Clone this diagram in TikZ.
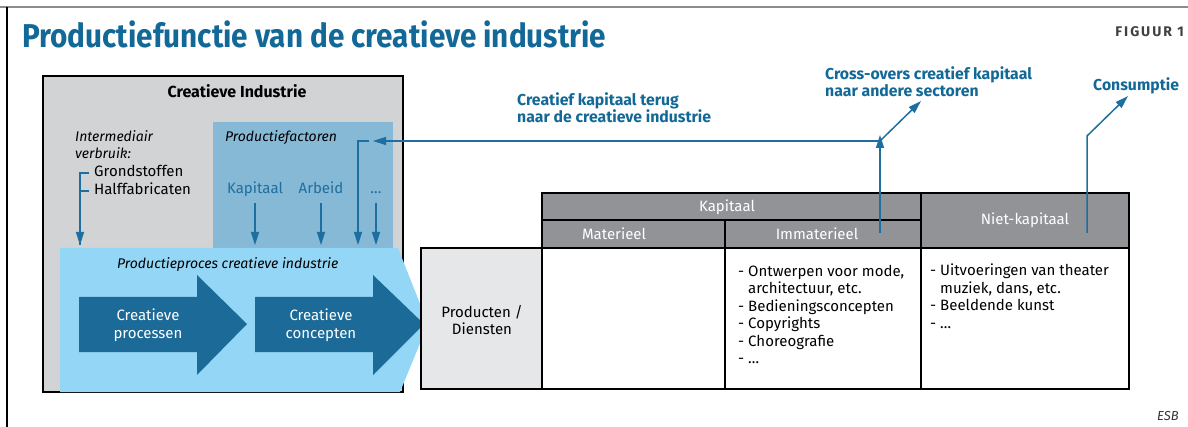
\documentclass[tikz,border=0pt]{standalone}
\usepackage{fontspec}
\setmainfont{Fira Sans}
\newfontfamily\condfont{Fira Sans}[FakeStretch=0.9]
\usetikzlibrary{arrows.meta}

\definecolor{esbblue}{RGB}{18,104,150}
\definecolor{arrowblue}{RGB}{30,110,160}
\definecolor{procblue}{RGB}{27,106,152}
\definecolor{lightblue}{RGB}{148,214,245}
\definecolor{factorblue}{RGB}{134,185,213}
\definecolor{boxgray}{RGB}{210,211,213}
\definecolor{headgray}{RGB}{146,147,151}
\definecolor{cellgray}{RGB}{230,231,232}
\definecolor{framegray}{RGB}{140,140,140}

\begin{document}
\begin{tikzpicture}[x=1pt,y=-1pt,
    txt/.style={font=\fontsize{15}{17.5}\selectfont, inner sep=0pt, align=left},
    ittxt/.style={txt, font=\itshape\fontsize{14}{17}\selectfont, anchor=base west},
    headtxt/.style={txt, text=white, anchor=center},
    bluebold/.style={font=\bfseries\fontsize{15.8}{17.8}\selectfont, text=esbblue, inner sep=0pt, anchor=base west, align=left},
    flow/.style={draw=arrowblue, line width=1.5, -{Triangle[length=13pt,width=8pt]}},
    plain/.style={draw=arrowblue, line width=1.5},
    grid/.style={draw=black, line width=1.1}]
    \useasboundingbox (0,0) rectangle (1188,427);

    % frame and title
    \draw[framegray, line width=2] (0,7) -- (1188,7);
    \draw[black, line width=1.3] (7,7) -- (7,427);
    \node[anchor=base west, inner sep=0pt, text=esbblue,
          font=\condfont\bfseries\fontsize{33}{36}\selectfont] (title) at (22,48)
          {Productiefunctie van de creatieve industrie};
    \node[anchor=base east, inner sep=0pt, text=black!75,
          font=\bfseries\fontsize{14}{14}\selectfont\addfontfeature{LetterSpace=14}] (figuur) at (1184,37) {FIGUUR 1};
    \node[anchor=base east, inner sep=0pt, font=\itshape\fontsize{13}{14}\selectfont,
          text=black!80] (esb) at (1179,420) {ESB};

    % creatieve industrie
    \draw[grid, fill=boxgray] (43,76) rectangle (403,392);
    \node[txt, font=\bfseries\fontsize{16}{17.5}\selectfont, anchor=base] (ci) at (237,98) {Creatieve Industrie};
    \fill[factorblue] (213,122) rectangle (393,250);

    \node[ittxt] (inter) at (75,159) {Intermediair\\verbruik:};
    \node[txt, anchor=base west] (grond) at (94,177) {Grondstoffen};
    \node[txt, anchor=base west] (half) at (94,195) {Halffabricaten};
    \node[ittxt] (pf) at (225,142) {Productiefactoren};
    \node[txt, text=arrowblue, anchor=base] (kap) at (255,194) {Kapitaal};
    \node[txt, text=arrowblue, anchor=base] (arb) at (321,194) {Arbeid};
    \node[txt, text=arrowblue, anchor=base] (etc) at (376,194) {\dots};

    \coordinate (br1) at (89,173);
    \coordinate (br2) at (89,191);
    \coordinate (brin) at (80,245);
    \draw[plain] (br1) -| (brin);
    \draw[plain] (br2) -- (br2 -| brin);
    \draw[flow] (br1 -| brin) -- (brin);

    \draw[flow] (255,203) -- (kap |- brin);
    \draw[flow] (321,203) -- (arb |- brin);
    \draw[flow] (376,203) -- (etc |- brin);

    % productieproces
    \fill[lightblue] (60,248) -- (398,248) -- (428,324) -- (400,392) -- (60,392) -- cycle;
    \node[ittxt] (pp) at (117,269) {Productieproces creatieve industrie};
    \fill[procblue] (79,297) -- (197,297) -- (197,275) -- (247,324) -- (197,375) -- (197,352) -- (79,352) -- cycle;
    \fill[procblue] (255,297) -- (373,297) -- (373,275) -- (424,324) -- (373,375) -- (373,352) -- (255,352) -- cycle;
    \node[txt, text=white, align=center] (cp) at (148,325) {Creatieve\\processen};
    \node[txt, text=white, align=center] (cc) at (321,325) {Creatieve\\concepten};

    % tabel
    \draw[grid, fill=headgray] (542,193) rectangle (1129,248);
    \draw[grid] (542,220) -- (921,220);
    \draw[grid] (725,220) -- (725,389);
    \draw[grid] (921,193) -- (921,389);
    \draw[grid, fill=cellgray] (421,248) rectangle (542,389);
    \draw[grid] (542,248) rectangle (1129,389);
    \node[headtxt] (kapitaal) at (727,207) {Kapitaal};
    \node[headtxt] (mat) at (614,234) {Materieel};
    \node[headtxt] (immat) at (817,234) {Immaterieel};
    \node[headtxt] (niet) at (1025,220) {Niet-kapitaal};
    \node[txt, align=center] (prod) at (482,320) {Producten /\\Diensten};
    \node[txt, anchor=base west] (immlist) at (738,363.5)
          {- Ontwerpen voor mode,\\\hphantom{- }architectuur, etc.\\- Bedieningsconcepten\\- Copyrights\\- Choreografie\\- \dots};
    \node[txt, anchor=base west] (nklist) at (930,328.5)
          {- Uitvoeringen van theater\\\hphantom{- }muziek, dans, etc.\\- Beeldende kunst\\- \dots};

    % stromen
    \coordinate (immout) at (880,233);
    \coordinate (split) at (880,141);
    \coordinate (fbin) at (373,141);
    \coordinate (fbout) at (369,141);
    \coordinate (fbdown) at (358,245);
    \coordinate (consout) at (1087,233);
    \coordinate (consbend) at (1087,136);
    \node[bluebold] (terug) at (517,123) {Creatief kapitaal terug\\naar de creatieve industrie};
    \node[bluebold] (cross) at (825,97) {Cross-overs creatief kapitaal\\naar andere sectoren};
    \node[bluebold] (cons) at (1093,91) {Consumptie};
    \draw[flow] (immout) -- ([yshift=6]split);
    \draw[flow] (split) -- (fbin);
    \draw[flow] (split) -- (921,101);
    \draw[flow] (fbout) -| (fbdown);
    \draw[flow] (consout) -- (consbend) -- (1128,96);
\end{tikzpicture}
\end{document}
